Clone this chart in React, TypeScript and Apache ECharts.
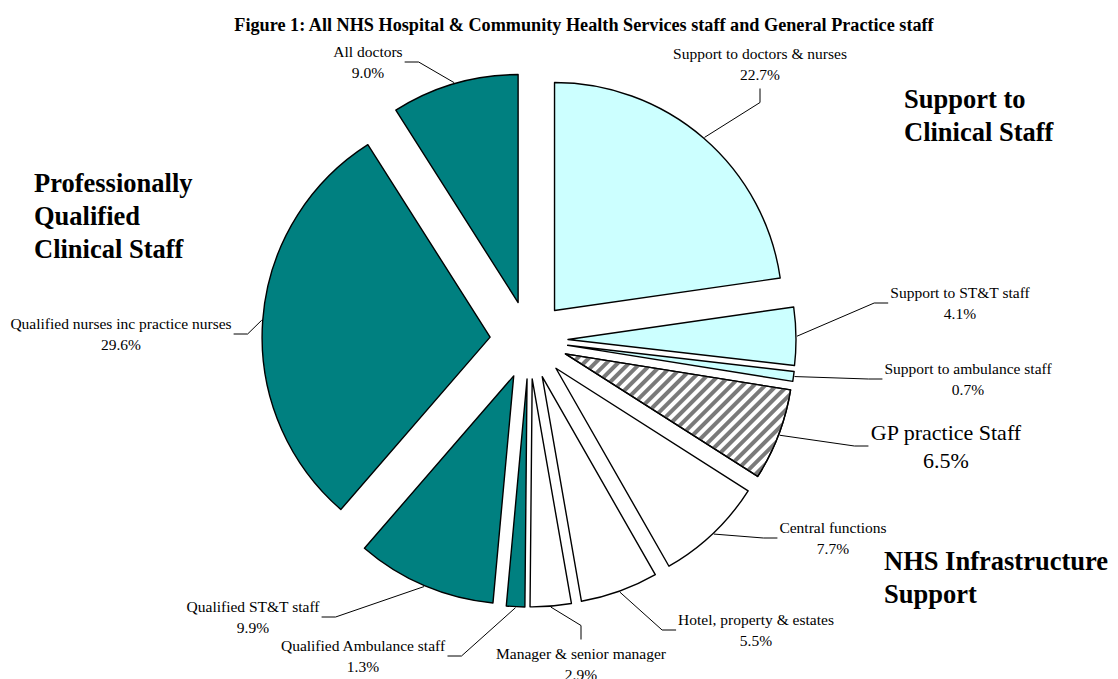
import React, { useEffect, useRef } from 'react';
import * as echarts from 'echarts';

const TITLE = 'Figure 1: All NHS Hospital & Community Health Services staff and General Practice staff';

const CATEGORIES = [
  'Support to doctors & nurses',
  'Support to ST&T staff',
  'Support to ambulance staff',
  'GP practice Staff',
  'Central functions',
  'Hotel, property & estates',
  'Manager & senior manager',
  'Qualified Ambulance staff',
  'Qualified ST&T staff',
  'Qualified nurses inc practice nurses',
  'All doctors',
];
const VALUES = [22.7, 4.1, 0.7, 6.5, 7.7, 5.5, 2.9, 1.3, 9.9, 29.6, 9.0];
const GROUP_OF = ['support', 'support', 'support', 'gp', 'infra', 'infra', 'infra', 'qualified', 'qualified', 'qualified', 'qualified'];

const GROUP_TITLES = [
  { text: 'Support to\nClinical Staff', x: 904, y: 82 },
  { text: 'Professionally\nQualified\nClinical Staff', x: 34, y: 166 },
  { text: 'NHS Infrastructure\nSupport', x: 884, y: 544 },
];

// label centres and the side of the label where the leader line attaches
const LABEL_POS: number[][] = [
  [760, 64], [960, 303], [968, 379], [946, 446], [833, 538], [756, 630],
  [581, 664], [363, 656], [253, 617], [121, 334], [368, 62],
];
const LABEL_SIDE = ['bottom', 'left', 'left', 'left', 'left', 'left', 'top', 'right', 'right', 'right', 'right'];

const FILL: Record<string, string> = {
  support: '#CCFFFF',
  gp: '#FFFFFF',
  infra: '#FFFFFF',
  qualified: '#008080',
};

const CX = 529;
const CY = 340;
const R = 228;
const OFFSET = 39;
const FONT = '"Liberation Serif", "Times New Roman", Times, serif';

export default function App() {
  const ref = useRef<HTMLDivElement>(null);

  useEffect(() => {
    if (!ref.current) return;
    const chart = echarts.init(ref.current, null, { renderer: 'svg' });
    const total = VALUES.reduce((a, b) => a + b, 0);
    const cum: number[] = [];
    let acc = 0;
    VALUES.forEach((v) => { cum.push(acc); acc += v; });

    const sliceData = CATEGORIES.map((name, i) => {
      const g = GROUP_OF[i];
      const item: any = {
        name,
        value: VALUES[i],
        selected: true,
        itemStyle: { color: FILL[g] },
      };
      if (g === 'gp') {
        item.itemStyle.decal = {
          symbol: 'rect',
          symbolSize: 1,
          dashArrayX: [1, 0],
          dashArrayY: [3.5, 3.5],
          rotation: -Math.PI / 4,
          color: '#7a7a7a',
        };
      }
      return item;
    });

    const labelData = CATEGORIES.map((name, i) => {
      const item: any = { name, value: VALUES[i] };
      if (GROUP_OF[i] === 'gp') item.label = { fontSize: 22, lineHeight: 28 };
      return item;
    });

    const option: any = {
      animation: false,
      backgroundColor: '#ffffff',
      title: {
        text: TITLE,
        left: 579,
        top: 11,
        textAlign: 'center',
        textStyle: { fontFamily: FONT, fontWeight: 'bold', fontSize: 18.2, color: '#000' },
      },
      graphic: GROUP_TITLES.map((g) => ({
        type: 'text',
        left: g.x,
        top: g.y,
        style: {
          text: g.text,
          font: `bold 26.5px ${FONT}`,
          lineHeight: 33,
          fill: '#000',
          textAlign: 'left',
        },
      })),
      series: [
        {
          type: 'pie',
          silent: true,
          center: [CX, CY],
          radius: R,
          startAngle: 90,
          clockwise: true,
          selectedMode: 'multiple',
          selectedOffset: OFFSET,
          data: sliceData,
          itemStyle: { borderColor: '#000', borderWidth: 1.4 },
          select: { itemStyle: { borderColor: '#000', borderWidth: 1.4 } },
          emphasis: { disabled: true },
          label: { show: false },
          labelLine: { show: false },
        },
        {
          type: 'pie',
          silent: true,
          z: 3,
          center: [CX, CY],
          radius: R,
          startAngle: 90,
          clockwise: true,
          selectedMode: false,
          avoidLabelOverlap: false,
          data: labelData,
          itemStyle: { color: 'rgba(0,0,0,0)', borderWidth: 0 },
          emphasis: { disabled: true },
          label: {
            show: true,
            position: 'outside',
            fontFamily: FONT,
            fontSize: 15.5,
            lineHeight: 20.5,
            color: '#000',
            align: 'center',
            formatter: (p: any) => `${p.name}\n${Number(p.value).toFixed(1)}%`,
          },
          labelLine: { show: true, length: 20, length2: 15, lineStyle: { color: '#000', width: 1 } },
          labelLayout: (params: any) => {
            const i = params.dataIndex;
            const [lx, ly] = LABEL_POS[i];
            const w = params.labelRect.width;
            const h = params.labelRect.height;
            const mid = ((cum[i] + VALUES[i] / 2) / total) * Math.PI * 2;
            const ax = CX + (R + OFFSET + 1) * Math.sin(mid);
            const ay = CY - (R + OFFSET + 1) * Math.cos(mid);
            let end: number[];
            let elbow: number[];
            const side = LABEL_SIDE[i];
            if (side === 'left') {
              end = [lx - w / 2 - 2, ly];
              elbow = [end[0] - 14, ly];
            } else if (side === 'right') {
              end = [lx + w / 2 + 2, ly];
              elbow = [end[0] + 14, ly];
            } else if (side === 'bottom') {
              end = [lx, ly + h / 2 + 4];
              elbow = [lx, end[1] + 14];
            } else {
              end = [lx, ly - h / 2 - 4];
              elbow = [lx, end[1] - 14];
            }
            return {
              x: lx,
              y: ly,
              align: 'center',
              verticalAlign: 'middle',
              labelLinePoints: [[ax, ay], elbow, end],
            };
          },
        },
      ],
    };
    chart.setOption(option);
    return () => chart.dispose();
  }, []);

  return (
    <div
      ref={ref}
      style={{ position: 'fixed', left: 0, top: 0, width: 1118, height: 679, background: '#fff' }}
    />
  );
}
